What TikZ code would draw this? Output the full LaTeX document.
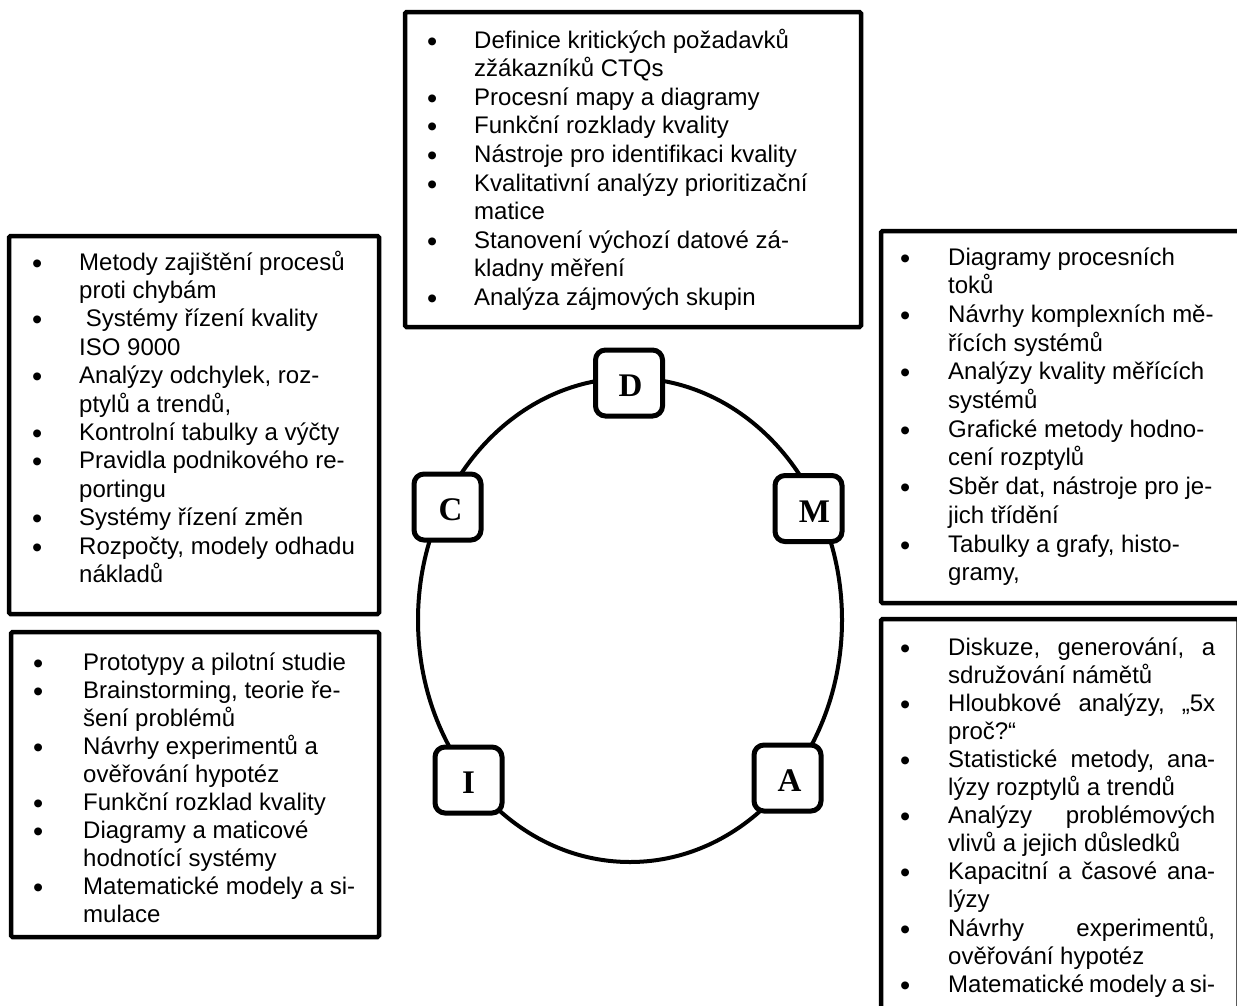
\documentclass[tikz,border=0pt]{standalone}
\usepackage{fontspec}
\setmainfont{Liberation Sans}
\newfontfamily\lserif{Liberation Serif}
\newlength\bulletoff
\setlength\bulletoff{42pt}
\newcommand\bu{\hbox to 0pt{\hss\hbox to 0pt{\hss{\fontsize{29}{29}\selectfont\raisebox{-3pt}{•}}\hss}\hspace{\bulletoff}}}
\newlength\jw
\setlength\jw{267pt}
\newcommand\jline[1]{\hbox to \jw{#1}}
\tikzset{
  frame/.style={draw, line width=4.5pt, rounded corners=1.5pt},
  listtext/.style={anchor=base west, inner sep=0pt, font=\fontsize{24}{#1}\selectfont},
  letterbox/.style={draw, line width=5pt, rounded corners=10pt, fill=white,
    minimum width=67pt, minimum height=66pt, inner sep=0pt,
    text height=27pt, text depth=0pt,
    font=\lserif\bfseries\fontsize{33}{33}\selectfont},
  ring/.style={draw, line width=4pt}
}
\begin{document}
\begin{tikzpicture}[x=1pt,y=-1pt]
\useasboundingbox (0,0) rectangle (1237,1005);
\fill[white] (0,0) rectangle (1237,1005);
\clip (0,0) rectangle (1237,1005);

% frames
\draw[frame] (405,12) rectangle (861,327);
\draw[frame] (9,236) rectangle (379,614);
\draw[frame] (11,632) rectangle (379,937);
\draw[frame] (881,231) rectangle (1250,603);
\draw[frame] (881,619) rectangle (1238.5,1020);

% top (D) list
\node[listtext=28.6] (tD) at (474,48) {\begin{tabular}[t]{@{}l@{}}
\bu Definice kritických požadavků\\
zžákazníků CTQs\\
\bu Procesní mapy a diagramy\\
\bu Funkční rozklady kvality\\
\bu Nástroje pro identifikaci kvality\\
\bu Kvalitativní analýzy prioritizační\\
matice\\
\bu Stanovení výchozí datové zá-\\
kladny měření\\
\bu Analýza zájmových skupin
\end{tabular}};

% left top (C) list
\node[listtext=28.4] (tC) at (79,270) {\begin{tabular}[t]{@{}l@{}}
\bu Metody zajištění procesů\\
proti chybám\\
\bu\ Systémy řízení kvality\\
ISO 9000\\
\bu Analýzy odchylek, roz-\\
ptylů a trendů,\\
\bu Kontrolní tabulky a výčty\\
\bu Pravidla podnikového re-\\
portingu\\
\bu Systémy řízení změn\\
\bu Rozpočty, modely odhadu\\
nákladů
\end{tabular}};

% left bottom (I) list
\node[listtext=28.0] (tI) at (83,670) {\setlength\bulletoff{45pt}\begin{tabular}[t]{@{}l@{}}
\bu Prototypy a pilotní studie\\
\bu Brainstorming, teorie ře-\\
šení problémů\\
\bu Návrhy experimentů a\\
ověřování hypotéz\\
\bu Funkční rozklad kvality\\
\bu Diagramy a maticové\\
hodnotící systémy\\
\bu Matematické modely a si-\\
mulace
\end{tabular}};

% right top (M) list
\node[listtext=28.7] (tM) at (948,265) {\setlength\bulletoff{43pt}\begin{tabular}[t]{@{}l@{}}
\bu Diagramy procesních\\
toků\\
\bu Návrhy komplexních mě-\\
řících systémů\\
\bu Analýzy kvality měřících\\
systémů\\
\bu Grafické metody hodno-\\
cení rozptylů\\
\bu Sběr dat, nástroje pro je-\\
jich třídění\\
\bu Tabulky a grafy, histo-\\
gramy,
\end{tabular}};

% right bottom (A) list
\node[listtext=28.1] (tA) at (948,655) {\setlength\bulletoff{43pt}\begin{tabular}[t]{@{}l@{}}
\bu\jline{Diskuze,\hfill generování,\hfill a}\\
sdružování námětů\\
\bu\jline{Hloubkové\hfill analýzy,\hfill „5x}\\
proč?“\\
\bu\jline{Statistické\hfill metody,\hfill ana-}\\
lýzy rozptylů a trendů\\
\bu\jline{Analýzy\hfill problémových}\\
vlivů a jejich důsledků\\
\bu\jline{Kapacitní\hfill a\hfill časové\hfill ana-}\\
lýzy\\
\bu\jline{Návrhy\hfill experimentů,}\\
ověřování hypotéz\\
\bu\jline{Matematické\hfill modely\hfill a\hfill si-}
\end{tabular}};

% ring
\draw[ring] (630,620) ellipse [x radius=212pt, y radius=242pt];

% letter boxes
\node[letterbox] (D) at (629,383) {\hspace*{3pt}D};
\node[letterbox] (C) at (447.5,507) {\hspace*{6pt}C};
\node[letterbox] (M) at (808.5,508.5) {\hspace*{12pt}M};
\node[letterbox] (I) at (468.5,780) {I};
\node[letterbox] (A) at (787.5,778) {\hspace*{4pt}A};
\end{tikzpicture}
\end{document}
